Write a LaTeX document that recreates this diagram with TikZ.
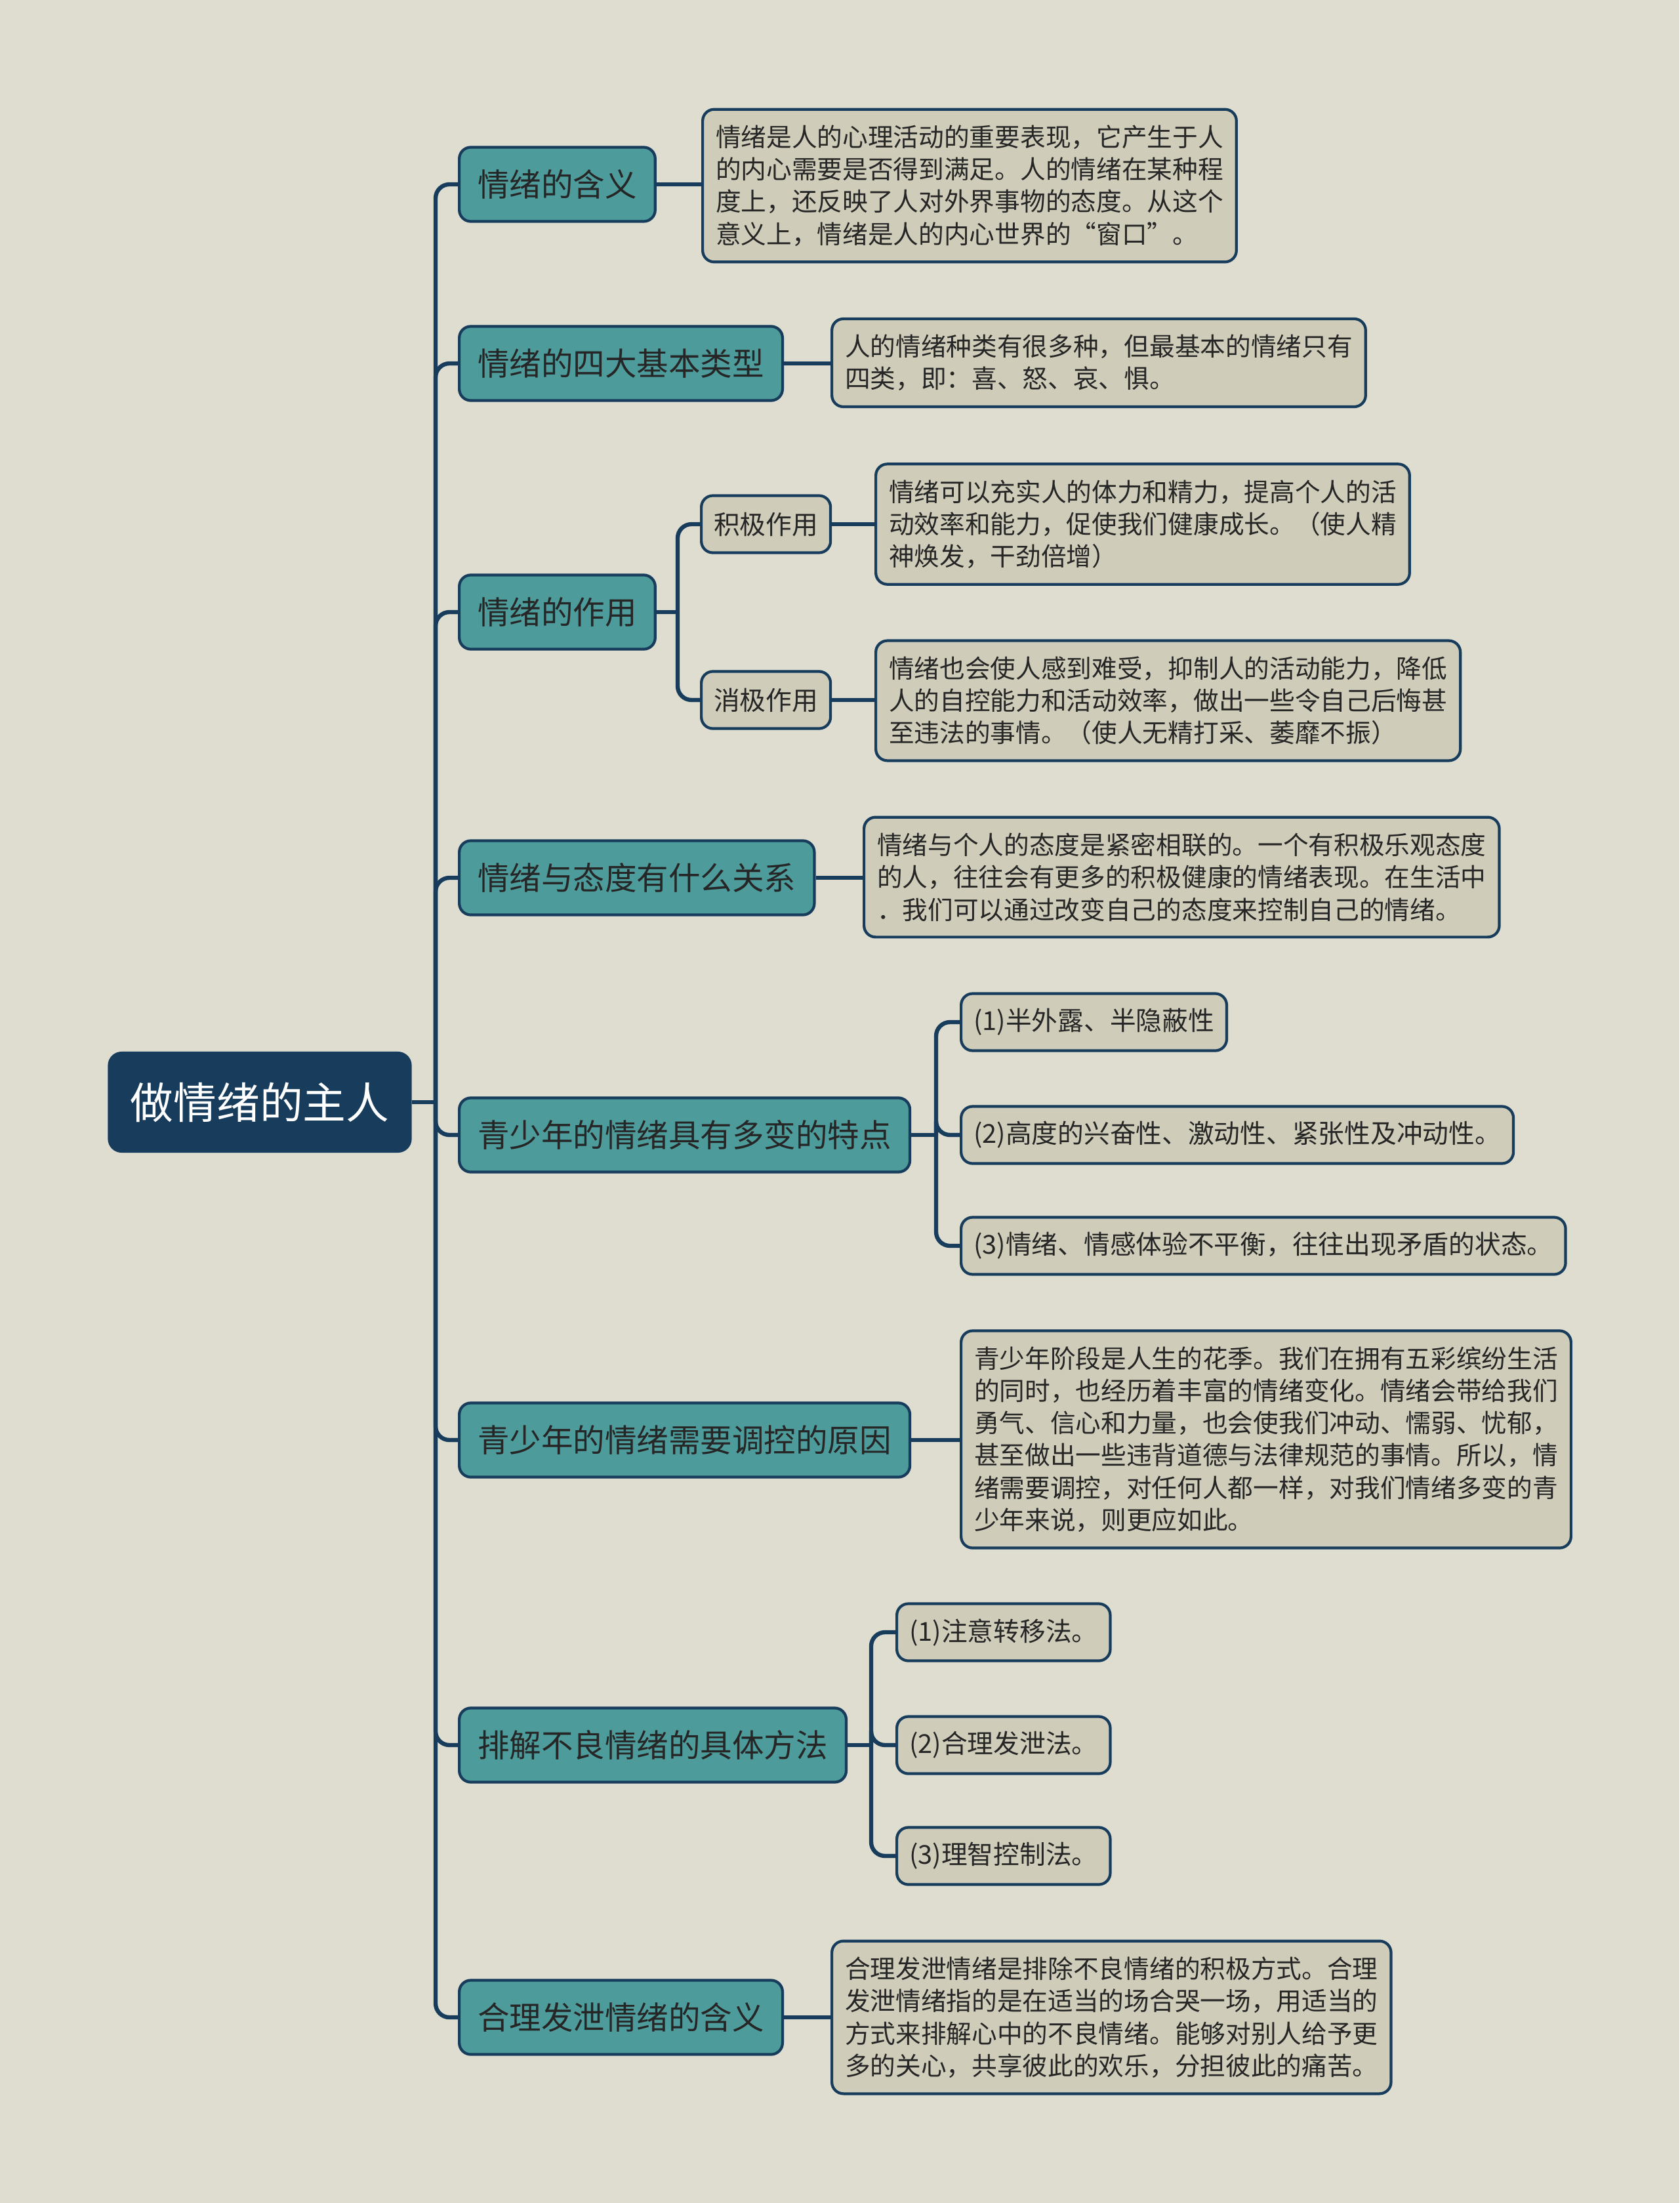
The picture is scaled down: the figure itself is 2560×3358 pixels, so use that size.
\documentclass[tikz,border=0pt]{standalone}
\usepackage{fontspec}
\setmainfont{Noto Sans CJK SC}
\definecolor{bg}{HTML}{DEDDD0}
\definecolor{navy}{HTML}{173C5C}
\definecolor{topicfill}{HTML}{4E9B9B}
\definecolor{leaffill}{HTML}{CFCDB9}
\definecolor{ink}{HTML}{262626}

\begin{document}
\begin{tikzpicture}[x=0.01cm,y=-0.01cm,
    link/.style={draw=navy,line width=1.8pt},
    branch/.style={link,rounded corners=6pt},
    root/.style={fill=navy,text=white,rounded corners=6pt,
        minimum width=4.63cm,minimum height=1.54cm,
        font=\fontsize{18.7}{22}\selectfont},
    topic/.style={draw=navy,line width=1.2pt,fill=topicfill,text=ink,
        rounded corners=5pt,anchor=west,minimum height=1.13cm,
        inner xsep=0.28cm,font=\fontsize{13.8}{16}\selectfont},
    leaf/.style={draw=navy,line width=1.2pt,fill=leaffill,text=ink,
        rounded corners=5pt,anchor=west,minimum height=0.87cm,
        inner xsep=0.19cm,font=\fontsize{11.3}{14}\selectfont},
    note/.style={leaf,align=left,inner xsep=0.2cm,inner ysep=0.24cm,
        font=\fontsize{11}{14}\selectfont}]
\useasboundingbox (0,0) rectangle (2560,3358);
\fill[bg] (0,0) rectangle (2560,3358);

\node[root] (main) at (396,1680) {做情绪的主人};

\node[topic] (hanyi)   at (698,281)  {情绪的含义};
\node[topic] (leixing) at (698,554)  {情绪的四大基本类型};
\node[topic] (zuoyong) at (698,933)  {情绪的作用};
\node[topic] (taidu)   at (698,1338) {情绪与态度有什么关系};
\node[topic] (tedian)  at (698,1730) {青少年的情绪具有多变的特点};
\node[topic] (yuanyin) at (698,2195) {青少年的情绪需要调控的原因};
\node[topic] (fangfa)  at (698,2660) {排解不良情绪的具体方法};
\node[topic] (fangxie) at (698,3075) {合理发泄情绪的含义};

% trunk
\coordinate (trunk) at (664,1680);
\draw[link] (main.east) -- (trunk);
\foreach \t in {hanyi,leixing,zuoyong,taidu,tedian,yuanyin,fangfa,fangxie}
    \draw[branch] (trunk) |- (\t.west);

\node[note] (hanyiT) at (1069,283) {情绪是人的心理活动的重要表现，它产生于人\\的内心需要是否得到满足。人的情绪在某种程\\度上，还反映了人对外界事物的态度。从这个\\意义上，情绪是人的内心世界的“窗口”。};
\node[note] (leixingT) at (1266,553) {人的情绪种类有很多种，但最基本的情绪只有\\四类，即：喜、怒、哀、惧。};

\node[leaf] (jiji)  at (1067,799)  {积极作用};
\node[leaf] (xiaoji) at (1067,1067) {消极作用};
\node[note] (jijiT)  at (1333,799)  {情绪可以充实人的体力和精力，提高个人的活\\动效率和能力，促使我们健康成长。（使人精\\神焕发，干劲倍增）};
\node[note] (xiaojiT) at (1333,1068) {情绪也会使人感到难受，抑制人的活动能力，降低\\人的自控能力和活动效率，做出一些令自己后悔甚\\至违法的事情。（使人无精打采、萎靡不振）};

\node[note] (taiduT) at (1315,1337) {情绪与个人的态度是紧密相联的。一个有积极乐观态度\\的人，往往会有更多的积极健康的情绪表现。在生活中\\．我们可以通过改变自己的态度来控制自己的情绪。};

\node[leaf] (td1) at (1463,1558) {(1)半外露、半隐蔽性};
\node[leaf] (td2) at (1463,1730) {(2)高度的兴奋性、激动性、紧张性及冲动性。};
\node[leaf] (td3) at (1463,1899) {(3)情绪、情感体验不平衡，往往出现矛盾的状态。};

\node[note] (yuanyinT) at (1463,2194) {青少年阶段是人生的花季。我们在拥有五彩缤纷生活\\的同时，也经历着丰富的情绪变化。情绪会带给我们\\勇气、信心和力量，也会使我们冲动、懦弱、忧郁，\\甚至做出一些违背道德与法律规范的事情。所以，情\\绪需要调控，对任何人都一样，对我们情绪多变的青\\少年来说，则更应如此。};

\node[leaf] (ff1) at (1365,2488) {(1)注意转移法。};
\node[leaf] (ff2) at (1365,2660) {(2)合理发泄法。};
\node[leaf] (ff3) at (1365,2829) {(3)理智控制法。};

\node[note] (fangxieT) at (1266,3075) {合理发泄情绪是排除不良情绪的积极方式。合理\\发泄情绪指的是在适当的场合哭一场，用适当的\\方式来排解心中的不良情绪。能够对别人给予更\\多的关心，共享彼此的欢乐，分担彼此的痛苦。};

% single notes
\draw[link] (hanyi.east) -- (hanyi.east -| hanyiT.west);
\draw[link] (leixing.east) -- (leixing.east -| leixingT.west);
\draw[link] (taidu.east) -- (taidu.east -| taiduT.west);
\draw[link] (yuanyin.east) -- (yuanyin.east -| yuanyinT.west);
\draw[link] (fangxie.east) -- (fangxie.east -| fangxieT.west);
\draw[link] (jiji.east) -- (jiji.east -| jijiT.west);
\draw[link] (xiaoji.east) -- (xiaoji.east -| xiaojiT.west);

% sub branches
\coordinate (zyfork) at (1033,933);
\draw[link] (zuoyong.east) -- (zyfork);
\foreach \t in {jiji,xiaoji} \draw[branch] (zyfork) |- (\t.west);

\coordinate (tdfork) at (1427,1730);
\draw[link] (tedian.east) -- (tdfork);
\foreach \t in {td1,td2,td3} \draw[branch] (tdfork) |- (\t.west);

\coordinate (fffork) at (1328,2660);
\draw[link] (fangfa.east) -- (fffork);
\foreach \t in {ff1,ff2,ff3} \draw[branch] (fffork) |- (\t.west);
\end{tikzpicture}
\end{document}
